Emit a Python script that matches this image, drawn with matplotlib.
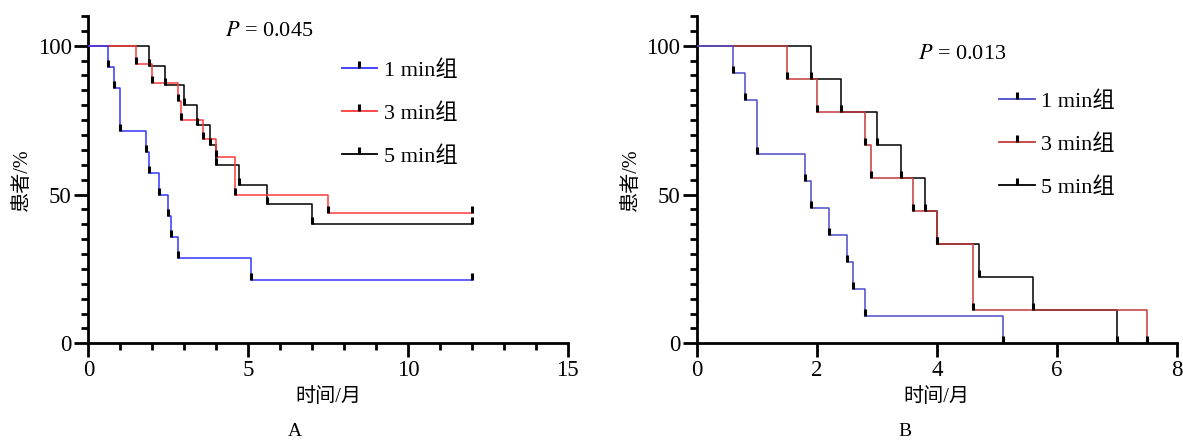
import matplotlib
matplotlib.use("Agg")
import matplotlib.pyplot as plt
from matplotlib.lines import Line2D
from matplotlib.ticker import MultipleLocator

plt.rcParams['font.family'] = ['Liberation Serif', 'Noto Sans CJK SC']
plt.rcParams['axes.unicode_minus'] = False

# group labels
groups = ['1 min组', '3 min组', '5 min组']

# Panel A: time (months) and survival (%) for each group
a_t_1 = [0, 0.6, 0.8, 1.0, 1.8, 1.9, 2.2, 2.5, 2.6, 2.8, 5.1, 12]
a_s_1 = [100, 92.9, 85.7, 71.4, 64.3, 57.1, 50.0, 42.9, 35.7, 28.6, 21.4, 21.4]
a_t_3 = [0, 1.5, 2.0, 2.8, 2.9, 3.6, 4.0, 4.6, 7.5, 12]
a_s_3 = [100, 93.8, 87.5, 81.3, 75.0, 68.8, 62.5, 50.0, 43.8, 43.8]
a_t_5 = [0, 1.9, 2.4, 3.0, 3.4, 3.8, 4.0, 4.7, 5.6, 7.0, 12]
a_s_5 = [100, 93.3, 86.7, 80.0, 73.3, 66.7, 60.0, 53.3, 46.7, 40.0, 40.0]

# Panel B
b_t_1 = [0, 0.6, 0.8, 1.0, 1.8, 1.9, 2.2, 2.5, 2.6, 2.8, 5.1]
b_s_1 = [100, 90.9, 81.8, 63.6, 54.5, 45.5, 36.4, 27.3, 18.2, 9.1, 0]
b_t_3 = [0, 1.5, 2.0, 2.8, 2.9, 3.6, 4.0, 4.6, 7.5]
b_s_3 = [100, 88.9, 77.8, 66.7, 55.6, 44.4, 33.3, 11.1, 0]
b_t_5 = [0, 1.9, 2.4, 3.0, 3.4, 3.8, 4.0, 4.7, 5.6, 7.0]
b_s_5 = [100, 88.9, 77.8, 66.7, 55.6, 44.4, 33.3, 22.2, 11.1, 0]

p_a = '0.045'
p_b = '0.013'


def km_panel(ax, curves, colors, xmax, xmajor, xminor, p_text, p_pos, leg_pos, letter, letter_x):
    # draw black first, then red, then blue on top
    for (t, s), c, z in reversed(list(zip(curves, colors, [4, 3, 2]))):
        ax.step(t, s, where='post', color=c, lw=1.1, zorder=z)
        ax.plot(t[1:], s[1:], ls='none', marker=2, ms=5, mew=2.2, color='k', zorder=5)

    ax.set_xlim(0, xmax)
    ax.set_ylim(0, 110)
    ax.spines['top'].set_visible(False)
    ax.spines['right'].set_visible(False)
    for sp in ['left', 'bottom']:
        ax.spines[sp].set_linewidth(2)
    ax.set_yticks([0, 50, 100])
    ax.yaxis.set_minor_locator(MultipleLocator(5))
    ax.xaxis.set_major_locator(MultipleLocator(xmajor))
    if xminor:
        ax.xaxis.set_minor_locator(MultipleLocator(xminor))
    ax.tick_params(which='major', length=10, width=2, labelsize=16.5, pad=2)
    ax.tick_params(which='minor', length=5, width=2)

    ax.set_xlabel('时间/月', fontsize=14.5, labelpad=5)
    ax.set_ylabel('患者/%', fontsize=14.5, labelpad=4)

    ax.text(p_pos[0], p_pos[1], '$\\it{P}$ = ' + p_text, transform=ax.transAxes,
            fontsize=16, va='center', ha='left', family=['Liberation Serif'],
            math_fontfamily='stix')

    handles = [Line2D([0], [0], color=c, lw=1.3, marker=2, ms=5, mew=2.2, mec='k')
               for c in colors]
    ax.legend(handles, groups, loc='upper left', bbox_to_anchor=leg_pos, frameon=False,
              fontsize=16, handlelength=1.6, handletextpad=0.3, labelspacing=1.0,
              borderpad=0, borderaxespad=0)

    ax.text(letter_x, -0.27, letter, transform=ax.transAxes, fontsize=14, ha='center', va='center')


fig = plt.figure(figsize=(11.83, 4.43), dpi=100)
ax_a = fig.add_axes([0.0747, 0.225, 0.4053, 0.739])
ax_b = fig.add_axes([0.589, 0.225, 0.4057, 0.739])

km_panel(ax_a, [(a_t_1, a_s_1), (a_t_3, a_s_3), (a_t_5, a_s_5)],
         ['#3535ff', '#ff3a3a', 'black'], 15, 5, 1, p_a, (0.285, 0.951), (0.528, 0.865), 'A', 0.431)
km_panel(ax_b, [(b_t_1, b_s_1), (b_t_3, b_s_3), (b_t_5, b_s_5)],
         ['#4b4bc8', '#c43b3b', 'black'], 8, 2, None, p_b, (0.461, 0.881), (0.630, 0.77), 'B', 0.434)

fig.savefig('out.png', dpi=100)
